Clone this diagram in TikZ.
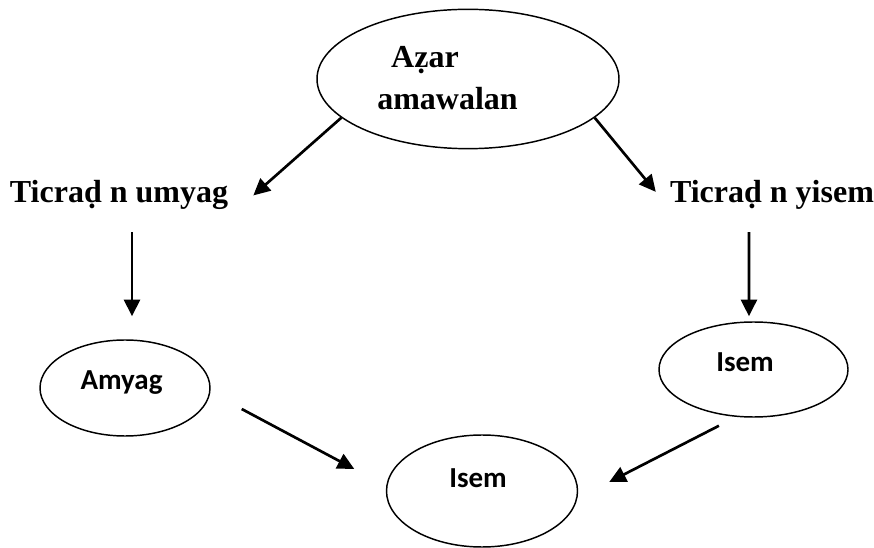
\documentclass[tikz,border=0pt]{standalone}
\usepackage{fontspec}
\newfontfamily\tnrfont{Liberation Serif}
\newfontfamily\calfont{Carlito}
\usetikzlibrary{shapes.geometric,arrows.meta}

\begin{document}
\begin{tikzpicture}[x=0.75pt,y=-0.75pt,
    oval/.style={draw,ellipse,line width=1.1pt,inner sep=0pt},
    bigtxt/.style={font=\tnrfont\bfseries\fontsize{24}{28}\selectfont,inner sep=0pt,anchor=base},
    smalltxt/.style={font=\calfont\bfseries\fontsize{21.75}{26}\selectfont,inner sep=0pt,anchor=base},
    arr/.style={-{Triangle[length=12.5pt,width=12pt]},line width=2pt}]
    \useasboundingbox(0,0)rectangle(874,548);

    \node[oval,minimum width=226.5pt,minimum height=104.5pt](root)at(468,79){};
    \node[bigtxt](rootA)at(425,68){Aẓar};
    \node[bigtxt](rootB)at(447.5,110){amawalan};
    \node[bigtxt](umyag)at(119,203){Ticraḍ n umyag};
    \node[bigtxt](yisem)at(772,203){Ticraḍ n yisem};

    \node[oval,minimum width=127.5pt,minimum height=72pt](amyag)at(125,388){};
    \node[smalltxt](amyagtxt)at(121.5,390){Amyag};
    \node[oval,minimum width=141.75pt,minimum height=71.25pt](isemR)at(753.5,369.5){};
    \node[smalltxt](isemRtxt)at(745,372){Isem};
    \node[oval,minimum width=143.25pt,minimum height=84pt](isemB)at(482,491){};
    \node[smalltxt](isemBtxt)at(478,488){Isem};

    \draw[arr](root.197.5)--([xshift=18.75pt]umyag.east);
    \draw[arr](root.343)--([xshift=-10.5pt,yshift=2.6pt]yisem.west);
    \draw[arr]([xshift=9.75pt,yshift=-16.5pt]umyag.south)--([xshift=5.25pt,yshift=17.25pt]amyag.north);
    \draw[arr]([xshift=-17.25pt,yshift=-16.5pt]yisem.south)--([xshift=-3.4pt,yshift=3.75pt]isemR.north);
    \draw[arr]([xshift=23.25pt,yshift=-15.75pt]amyag.east)--([xshift=-23.6pt,yshift=16.5pt]isemB.west);
    \draw[arr]([xshift=-25.9pt,yshift=-6pt]isemR.south)--([xshift=23.25pt,yshift=6.75pt]isemB.east);
\end{tikzpicture}
\end{document}
